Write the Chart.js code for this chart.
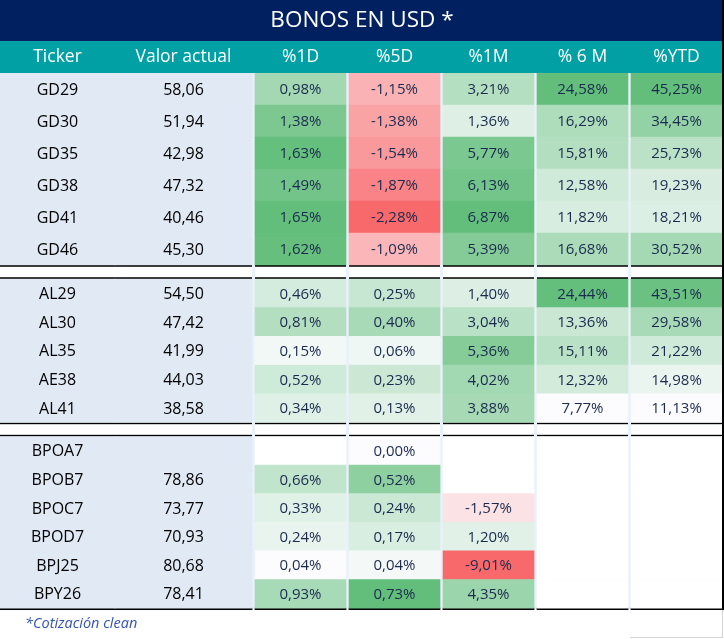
<!DOCTYPE html>
<html>
<head>
<meta charset="utf-8">
<script src="https://cdn.jsdelivr.net/npm/chart.js@4.4.1/dist/chart.umd.min.js"></script>
<style>
    html, body { margin: 0; padding: 0; background: #fff; }
    canvas { display: block; }
</style>
</head>
<body>
<canvas id="tabla-bonos" width="724" height="639"></canvas>
<script>
// Bonos en USD - tabla de variaciones con escala de color

const columnas = ['Ticker', 'Valor actual', '%1D', '%5D', '%1M', '% 6 M', '%YTD'];
const filasPorBloque = [6, 5, 6]; // GD, AL/AE, BP

const tickers = ['GD29', 'GD30', 'GD35', 'GD38', 'GD41', 'GD46',
    'AL29', 'AL30', 'AL35', 'AE38', 'AL41',
    'BPOA7', 'BPOB7', 'BPOC7', 'BPOD7', 'BPJ25', 'BPY26'];
const valorActual = [58.06, 51.94, 42.98, 47.32, 40.46, 45.30,
    54.50, 47.42, 41.99, 44.03, 38.58,
    null, 78.86, 73.77, 70.93, 80.68, 78.41];
const var1D = [0.98, 1.38, 1.63, 1.49, 1.65, 1.62,
    0.46, 0.81, 0.15, 0.52, 0.34,
    null, 0.66, 0.33, 0.24, 0.04, 0.93];
const var5D = [-1.15, -1.38, -1.54, -1.87, -2.28, -1.09,
    0.25, 0.40, 0.06, 0.23, 0.13,
    0.00, 0.52, 0.24, 0.17, 0.04, 0.73];
const var1M = [3.21, 1.36, 5.77, 6.13, 6.87, 5.39,
    1.40, 3.04, 5.36, 4.02, 3.88,
    null, null, -1.57, 1.20, -9.01, 4.35];
const var6M = [24.58, 16.29, 15.81, 12.58, 11.82, 16.68,
    24.44, 13.36, 15.11, 12.32, 7.77,
    null, null, null, null, null, null];
const varYTD = [45.25, 34.45, 25.73, 19.23, 18.21, 30.52,
    43.51, 29.58, 21.22, 14.98, 11.13,
    null, null, null, null, null, null];

const variaciones = [var1D, var5D, var1M, var6M, varYTD];

// Layout (pixeles del cuerpo de la tabla)
const colX = [[0, 115], [115, 252], [255, 346], [349, 440], [443, 534], [537, 628], [631, 722]];
const tramosLinea = [[0, 252], [255, 346], [349, 440], [443, 534], [537, 628], [631, 722]];
const altoFila = [32, 28.7, 28.6];
const altoCorte = 14;
const grosorLinea = 2;

const FUENTE = '"Open Sans"';
const NAVY = '#002060';
const TEAL = '#00A0A5';
const FONDO_IZQ = '#E1E9F4';
const FONDO_SEP = '#E9F1FB';
const TEXTO = '#1B2A4E';

// Helpers
function fmt(v, pct) {
    if (v === null || v === undefined) return '';
    return v.toFixed(2).replace('.', ',') + (pct ? '%' : '');
}

function mezcla(a, b, t) {
    const c = a.map((x, i) => Math.round(x + (b[i] - x) * t));
    return `rgb(${c[0]}, ${c[1]}, ${c[2]})`;
}

function colorEscala(v, serie) {
    if (v === null) return '#ffffff';
    const vals = serie.filter(x => x !== null);
    const max = Math.max(...vals);
    const min = Math.min(...vals);
    const medio = min < 0 ? 0 : min;
    const blanco = [252, 252, 255];
    if (v >= medio) {
        const t = max > medio ? (v - medio) / (max - medio) : 0;
        return mezcla(blanco, [99, 190, 123], t);
    }
    return mezcla(blanco, [248, 105, 107], (v - medio) / (min - medio));
}

// Posiciones verticales de bloques
const inicioBloque = [];
let acum = 0;
filasPorBloque.forEach((n, b) => {
    inicioBloque.push(acum);
    acum += n * altoFila[b];
    if (b < filasPorBloque.length - 1) acum += altoCorte;
});
const finTabla = acum;
const yMax = finTabla + grosorLinea;

// Datasets: un bloque de celdas por grupo de bonos
const datasets = [];
let fila = 0;
filasPorBloque.forEach((n, b) => {
    const data = [], fondos = [], textos = [], colores = [], fuentes = [];
    for (let k = 0; k < n; k++, fila++) {
        const yc = inicioBloque[b] + (k + 0.5) * altoFila[b];
        colX.forEach((rango, c) => {
            data.push({ x: rango, y: yc });
            if (c === 0) {
                fondos.push(FONDO_IZQ); textos.push(tickers[fila]); colores.push('#000'); fuentes.push('16px ' + FUENTE);
            } else if (c === 1) {
                fondos.push(FONDO_IZQ); textos.push(fmt(valorActual[fila], false)); colores.push('#000'); fuentes.push('16px ' + FUENTE);
            } else {
                const serie = variaciones[c - 2];
                fondos.push(colorEscala(serie[fila], serie));
                textos.push(fmt(serie[fila], true));
                colores.push(TEXTO);
                fuentes.push('15px ' + FUENTE);
            }
        });
    }
    datasets.push({
        data,
        backgroundColor: fondos,
        barThickness: altoFila[b],
        grouped: false,
        borderWidth: 0,
        borderSkipped: false,
        textos, colores, fuentes
    });
});

// Cortes entre bloques (doble linea negra) y linea final
const cortes = [];
for (let b = 1; b < filasPorBloque.length; b++) {
    const yc = inicioBloque[b] - altoCorte / 2;
    tramosLinea.forEach(r => cortes.push({ x: r, y: yc }));
}
datasets.push({
    data: cortes,
    backgroundColor: '#ffffff',
    borderColor: '#000000',
    borderWidth: { top: grosorLinea, bottom: grosorLinea, left: 0, right: 0 },
    borderSkipped: false,
    barThickness: altoCorte,
    grouped: false
});
datasets.push({
    data: tramosLinea.map(r => ({ x: r, y: finTabla + grosorLinea / 2 })),
    backgroundColor: '#000000',
    borderWidth: 0,
    borderSkipped: false,
    barThickness: grosorLinea,
    grouped: false
});

// Plugins
const fondoTabla = {
    id: 'fondoTabla',
    beforeDraw(chart) {
        const { ctx, chartArea, scales, titleBlock } = chart;
        ctx.save();
        ctx.fillStyle = '#ffffff';
        ctx.fillRect(0, 0, chart.width, chart.height);
        ctx.fillStyle = NAVY;
        ctx.fillRect(0, 0, chart.width, titleBlock.bottom);
        ctx.fillStyle = TEAL;
        ctx.fillRect(0, scales.x.top, chart.width, scales.x.bottom - scales.x.top);
        ctx.fillStyle = FONDO_SEP;
        ctx.fillRect(0, chartArea.top, chart.width, chartArea.bottom - chartArea.top);
        ctx.restore();
    }
};

const textoCeldas = {
    id: 'textoCeldas',
    afterDatasetsDraw(chart) {
        const ctx = chart.ctx;
        chart.data.datasets.forEach((ds, di) => {
            if (!ds.textos) return;
            const meta = chart.getDatasetMeta(di);
            meta.data.forEach((el, j) => {
                const t = ds.textos[j];
                if (!t) return;
                ctx.save();
                ctx.font = ds.fuentes[j];
                ctx.fillStyle = ds.colores[j];
                ctx.textAlign = 'center';
                ctx.textBaseline = 'middle';
                ctx.fillText(t, (el.x + el.base) / 2, el.y + 1);
                ctx.restore();
            });
        });
    },
    afterDraw(chart) {
        const { ctx, chartArea } = chart;
        ctx.save();
        // borde derecho
        ctx.fillStyle = '#000000';
        ctx.fillRect(722, 0, 2, chartArea.bottom);
        ctx.fillStyle = '#d4d4d4';
        ctx.fillRect(722, chartArea.bottom, 1, chart.height - chartArea.bottom - 1);
        ctx.fillRect(630, chart.height - 2, 93, 1);
        // nota al pie
        ctx.font = 'italic 14.5px ' + FUENTE;
        ctx.fillStyle = '#3453B0';
        ctx.textAlign = 'left';
        ctx.textBaseline = 'middle';
        ctx.fillText('*Cotización clean', 25, 624);
        ctx.restore();
    }
};

new Chart(document.getElementById('tabla-bonos').getContext('2d'), {
    type: 'bar',
    data: { datasets },
    options: {
        indexAxis: 'y',
        responsive: false,
        animation: false,
        layout: { padding: { left: 0, right: 0, top: 0, bottom: 639 - 73 - yMax } },
        plugins: {
            legend: { display: false },
            tooltip: { enabled: false },
            title: {
                display: true,
                text: 'BONOS EN USD *',
                color: '#ffffff',
                font: { family: FUENTE, size: 22.5, weight: 'normal', lineHeight: 1.2 },
                padding: { top: 7, bottom: 7 }
            }
        },
        scales: {
            x: {
                type: 'linear',
                position: 'top',
                min: 0,
                max: 724,
                grid: { display: false, drawTicks: false },
                border: { display: false },
                afterBuildTicks: s => { s.ticks = colX.map(r => ({ value: (r[0] + r[1]) / 2 })); },
                afterFit: s => { s.height = 32; },
                ticks: {
                    color: '#ffffff',
                    font: { family: FUENTE, size: 17.5 },
                    padding: 5,
                    autoSkip: false,
                    maxRotation: 0,
                    callback: (v, i) => columnas[i]
                }
            },
            y: {
                type: 'linear',
                min: 0,
                max: yMax,
                reverse: true,
                offset: false,
                display: false
            }
        }
    },
    plugins: [fondoTabla, textoCeldas]
});
</script>
</body>
</html>
